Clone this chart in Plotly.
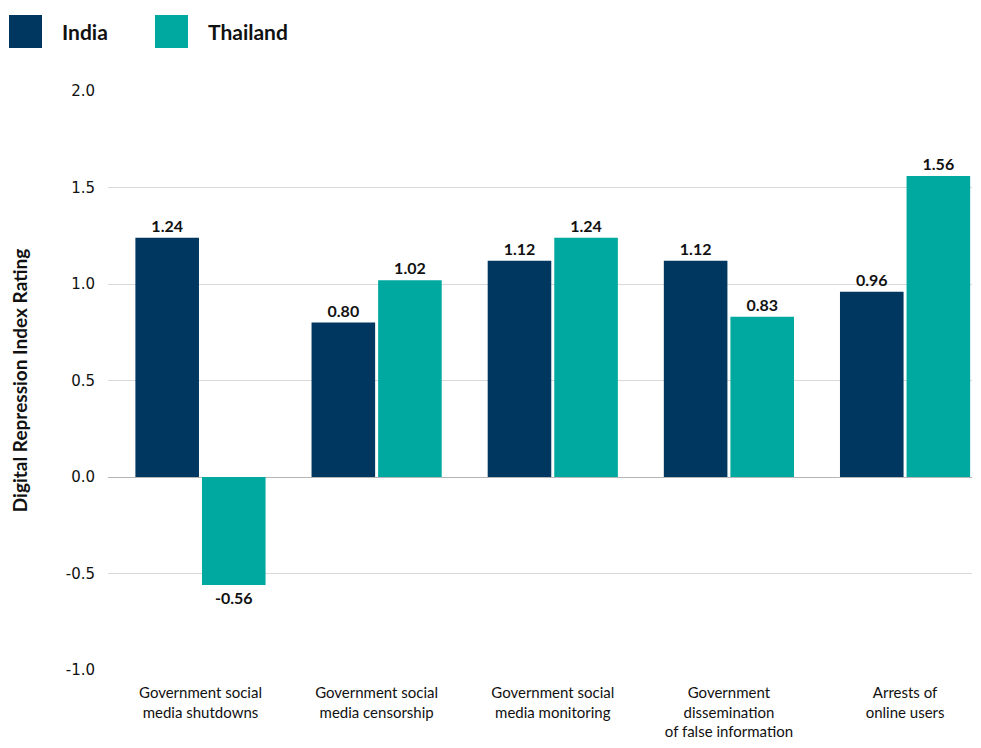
import plotly.graph_objects as go

categories = [
    "Government social<br>media shutdowns",
    "Government social<br>media censorship",
    "Government social<br>media monitoring",
    "Government<br>dissemination<br>of false information",
    "Arrests of<br>online users",
]
india = [1.24, 0.80, 1.12, 1.12, 0.96]
thailand = [-0.56, 1.02, 1.24, 0.83, 1.56]
series_names = ["India", "Thailand"]
india_color = "#003761"
thailand_color = "#00A99F"
y_ticks = [-1.0, -0.5, 0.0, 0.5, 1.0, 1.5, 2.0]
y_tick_labels = ["-1.0", "-0.5", "0.0", "0.5", "1.0", "1.5", "2.0"]

FONT = "Lato"

# figure geometry sized so the page (with its 8px body margin) has no scrollbars
W, H = 965, 732
ML, MR, MT, MB = 100, 1, 83, 70
PW, PH = W - ML - MR, H - MT - MB

fig = go.Figure()
for name, vals, col in [(series_names[0], india, india_color), (series_names[1], thailand, thailand_color)]:
    fig.add_trace(go.Bar(
        name=name, x=categories, y=vals, marker=dict(color=col, line=dict(width=0)),
        text=[f"{v:.2f}" for v in vals], textposition="outside",
        textfont=dict(family=FONT, size=16, color="#111111", weight="bold"),
        cliponaxis=False, showlegend=False,
    ))

# legend drawn as layout decorations (large square swatches)
for i, (name, col) in enumerate(zip(series_names, [india_color, thailand_color])):
    x0 = 1 + i * 146
    fig.add_shape(type="rect", xref="paper", yref="paper",
                  x0=(x0 - ML) / PW, x1=(x0 + 33 - ML) / PW,
                  y0=(MT + PH - 40) / PH, y1=(MT + PH - 7) / PH,
                  fillcolor=col, line=dict(width=0))
    fig.add_annotation(xref="paper", yref="paper", x=(x0 + 51 - ML) / PW,
                       y=(MT + PH - 23) / PH, text=f"<b>{name}</b>", showarrow=False,
                       xanchor="left", yanchor="middle",
                       font=dict(family=FONT, size=21, color="#111111"))

fig.update_layout(
    width=W, height=H,
    margin=dict(l=ML, r=MR, t=MT, b=MB),
    plot_bgcolor="white", paper_bgcolor="white",
    barmode="group", bargap=0.244, bargroupgap=0.045,
    font=dict(family=FONT, color="#111111"),
    showlegend=False,
    xaxis=dict(
        range=[-0.525, 4.38], showgrid=False, showline=False, ticks="",
        tickfont=dict(family=FONT, size=15, color="#111111"),
        ticklabelstandoff=12, automargin=False,
    ),
    yaxis=dict(
        range=[-1.0, 2.0], tickvals=y_ticks, ticktext=y_tick_labels,
        showgrid=True, gridcolor="#d9d9d9", gridwidth=1,
        zeroline=True, zerolinecolor="#b5b5b5", zerolinewidth=1,
        showline=False, ticks="",
        tickfont=dict(family="DejaVu Sans", size=15, color="#111111"),
        ticklabelstandoff=12, automargin=False,
        title=dict(text="<b>Digital Repression Index Rating</b>",
                   font=dict(family=FONT, size=19, color="#111111"), standoff=36),
    ),
)

fig.write_html("out.html")
